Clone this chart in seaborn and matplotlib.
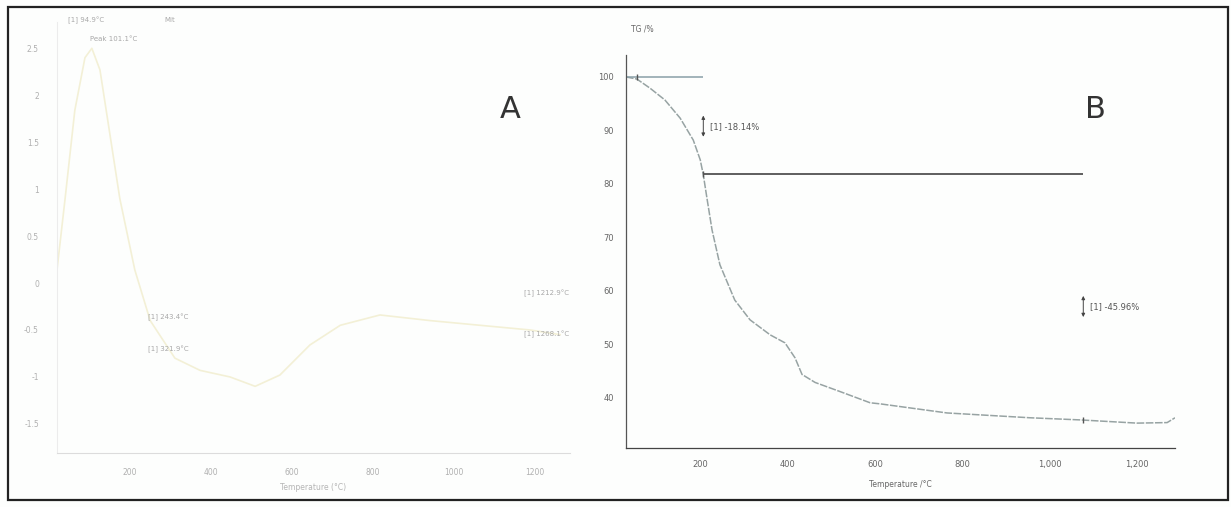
import matplotlib
matplotlib.use("Agg")
import matplotlib.pyplot as plt
from matplotlib.patches import Rectangle
import seaborn as sns
import pandas as pd

sns.set_style("white")
plt.rcParams['font.family'] = ['DejaVu Sans']

# ---- Panel A: DSC curve (faint) ----
dsc_temp = [20, 40, 64, 89, 106, 126, 150, 175, 212, 250, 311, 373, 447, 509,
            570, 644, 719, 817, 941, 1064, 1188, 1262]
dsc_signal = [0.14, 0.9, 1.84, 2.4, 2.5, 2.27, 1.6, 0.9, 0.14, -0.4, -0.8, -0.93,
              -1.0, -1.1, -0.98, -0.66, -0.45, -0.34, -0.4, -0.45, -0.5, -0.55]
a_yticks = [2.5, 2, 1.5, 1, 0.5, 0, -0.5, -1, -1.5]
a_ytick_labels = ["2.5", "2", "1.5", "1", "0.5", "0", "-0.5", "-1", "-1.5"]
a_xticks = [200, 400, 600, 800, 1000, 1200]

# ---- Panel B: TG curve ----
tg_temp = [30, 55, 85, 119, 154, 184, 200, 207, 216, 227, 245, 279, 314, 360,
           394, 417, 433, 463, 520, 589, 612, 765, 955, 1070, 1200, 1269, 1287]
tg_mass = [100, 99.6, 97.9, 95.7, 92.3, 88.2, 84.5, 81.7, 77, 71.4, 64.9, 58.3,
           54.6, 51.8, 50.3, 47.5, 44.4, 42.9, 41.2, 39.1, 38.9, 37.2, 36.3, 35.9,
           35.3, 35.4, 36.3]
b_yticks = [100, 90, 80, 70, 60, 50, 40]
b_xticks = [200, 400, 600, 800, 1000, 1200]
b_xtick_labels = ["200", "400", "600", "800", "1,000", "1,200"]
step1_level = [100, 81.8]
step1_range = [30, 207]
step2_range = [207, 1077]

fig = plt.figure(figsize=(12.31, 5.07), dpi=100)
fig.patch.set_facecolor("#fdfefd")

# figure border
fig.add_artist(Rectangle((8/1231, 1-500/507), (1228-8)/1231, (500-7)/507,
                         transform=fig.transFigure, fill=False,
                         edgecolor="#222222", lw=1.6))

# ===== Panel A =====
axA = fig.add_axes([57/1231, 1-453/507, (570-57)/1231, (453-22)/507])
axA.set_facecolor("none")
dfA = pd.DataFrame({"T": dsc_temp, "S": dsc_signal})
sns.lineplot(data=dfA, x="T", y="S", ax=axA, color="#f3f0d6", lw=1.2)
axA.set_xlim(20, 1286)
axA.set_ylim(-1.81, 2.78)
axA.set_yticks(a_yticks)
axA.set_yticklabels(a_ytick_labels)
axA.set_xticks(a_xticks)
axA.set_xlabel("Temperature (°C)", fontsize=5.5, color="#b5b5b5", labelpad=4)
axA.set_ylabel("")
axA.tick_params(axis="y", pad=12)
axA.tick_params(axis="x", pad=10)
axA.tick_params(axis="both", labelsize=5.5, colors="#d8d8d8", labelcolor="#b0b0b0",
                length=2, direction="inout")
for s in ["top", "right"]:
    axA.spines[s].set_visible(False)
axA.spines["left"].set_color("#ececec")
axA.spines["bottom"].set_color("#dcdcdc")
txtA = dict(fontsize=5, color="#a8a8a8")
axA.text(0.022, 1.0, "[1] 94.9°C", transform=axA.transAxes, **txtA)
axA.text(0.21, 1.0, "Mit", transform=axA.transAxes, **txtA)
axA.text(0.065, 0.955, "Peak 101.1°C", transform=axA.transAxes, **txtA)
axA.text(0.178, 0.31, "[1] 243.4°C", transform=axA.transAxes, **txtA)
axA.text(0.178, 0.237, "[1] 321.9°C", transform=axA.transAxes, **txtA)
axA.text(0.91, 0.365, "[1] 1212.9°C", transform=axA.transAxes, **txtA)
axA.text(0.91, 0.27, "[1] 1268.1°C", transform=axA.transAxes, **txtA)
fig.text(510/1231, 1-110/507, "A", fontsize=22, color="#333333",
         ha="center", va="center")

# ===== Panel B =====
axB = fig.add_axes([626/1231, 1-448/507, (1175-626)/1231, (448-55)/507])
axB.set_facecolor("none")
dfB = pd.DataFrame({"T": tg_temp, "M": tg_mass})
sns.lineplot(data=dfB, x="T", y="M", ax=axB, color="#97a3a3", lw=1.1,
             linestyle=(0, (5, 1)))
axB.hlines(step1_level[0], step1_range[0], step1_range[1], color="#8aa0a8", lw=1.1)
axB.hlines(step1_level[1], step2_range[0], step2_range[1], color="#333333", lw=1.1)
axB.plot([55, 207, 1077], [100, 81.8, 35.8], ls="none", marker="|",
         color="#555555", ms=4)
axB.annotate("", xy=(207, 93.3), xytext=(207, 88.3),
             arrowprops=dict(arrowstyle="<|-|>", color="#444444", lw=0.7,
                             mutation_scale=5))
axB.text(222, 90.8, "[1] -18.14%", fontsize=6, color="#555555", va="center")
axB.annotate("", xy=(1077, 59.6), xytext=(1077, 54.6),
             arrowprops=dict(arrowstyle="<|-|>", color="#444444", lw=0.7,
                             mutation_scale=5))
axB.text(1092, 57.1, "[1] -45.96%", fontsize=6, color="#555555", va="center")
axB.set_xlim(30, 1287)
axB.set_ylim(30.65, 104.1)
axB.set_yticks(b_yticks)
axB.set_xticks(b_xticks)
axB.set_xticklabels(b_xtick_labels)
axB.set_xlabel("Temperature /°C", fontsize=5.5, color="#666666", labelpad=8,
               loc="center")
axB.set_ylabel("")
axB.text(0.01, 1.06, "TG /%", transform=axB.transAxes, fontsize=5.5,
         color="#666666")
axB.tick_params(axis="both", labelsize=6, colors="#555555", labelcolor="#666666",
                length=3, direction="inout", pad=7)
for s in ["top", "right"]:
    axB.spines[s].set_visible(False)
axB.spines["left"].set_color("#555555")
axB.spines["bottom"].set_color("#444444")
axB.spines["left"].set_linewidth(0.9)
axB.spines["bottom"].set_linewidth(0.9)
fig.text(1095/1231, 1-110/507, "B", fontsize=22, color="#333333",
         ha="center", va="center")

fig.savefig("out.png", dpi=100)
